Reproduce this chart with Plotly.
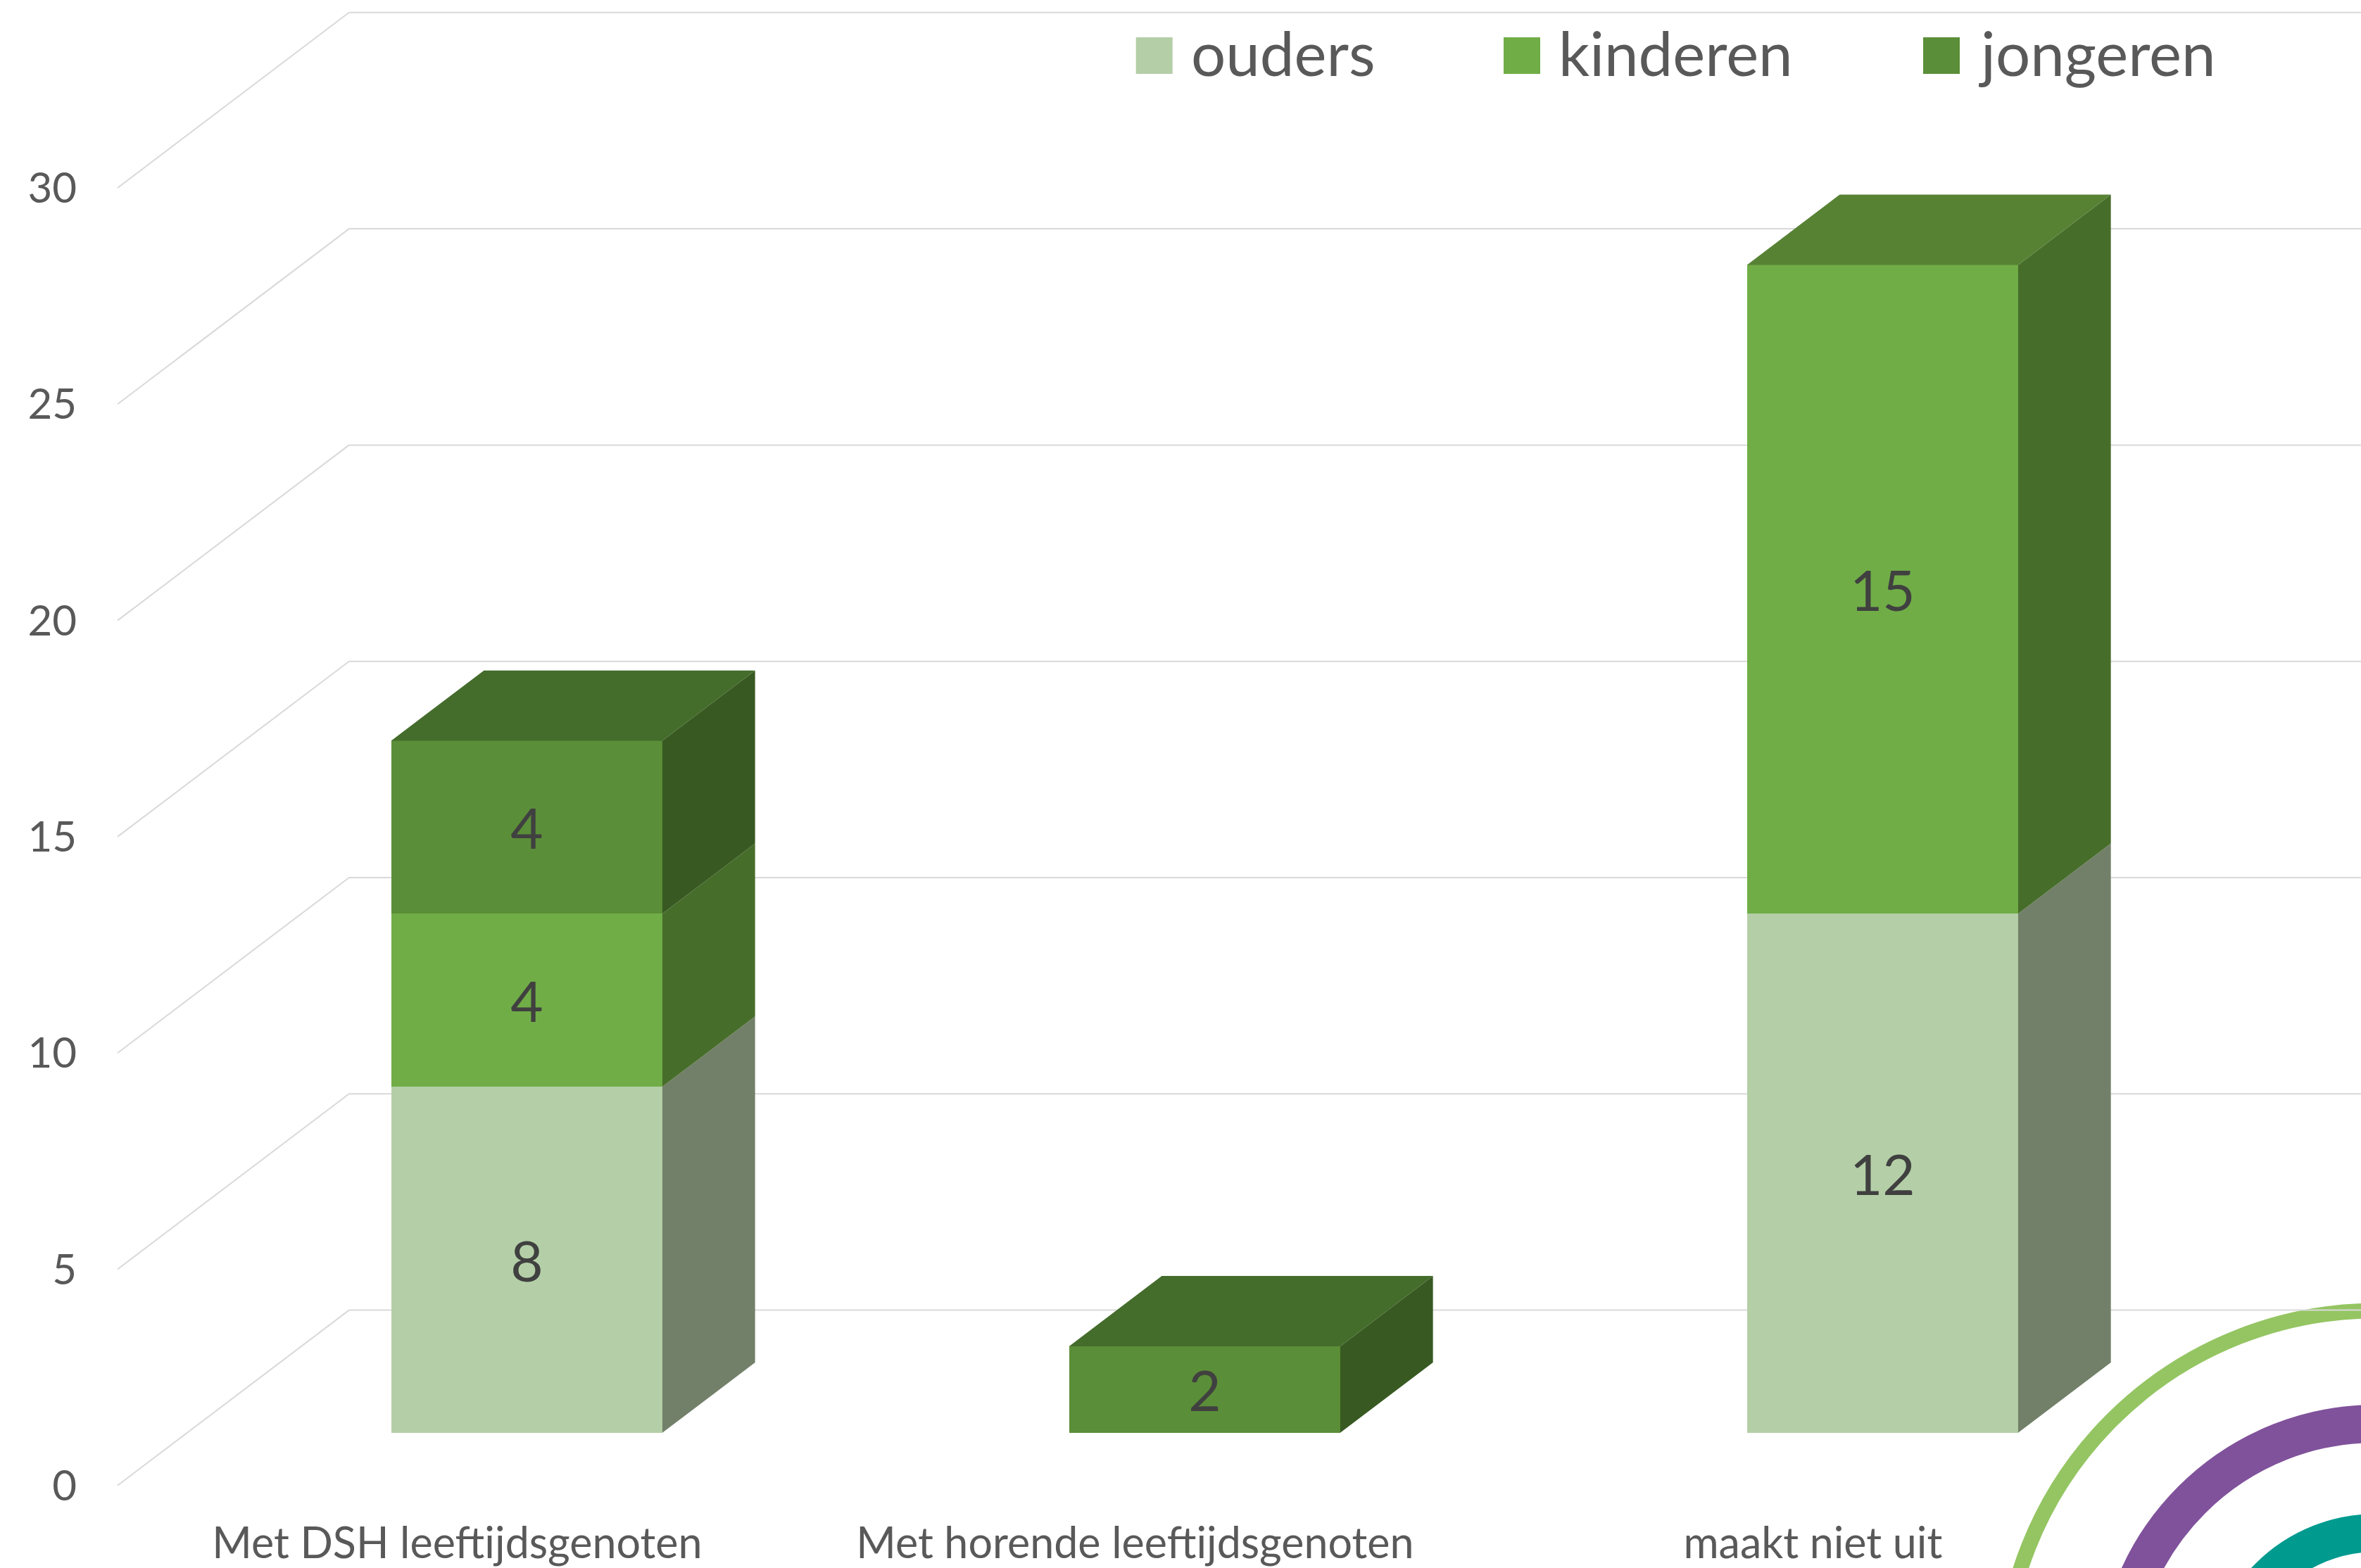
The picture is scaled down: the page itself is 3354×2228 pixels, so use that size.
import plotly.graph_objects as go

# ---- data ----
categories = ["Met DSH leeftijdsgenoten", "Met horende leeftijdsgenoten", "maakt niet uit"]
series_names = ["ouders", "kinderen", "jongeren"]
ouders = [8, None, 12]
kinderen = [4, None, 15]
jongeren = [4, 2, None]
value_ticks = [0, 5, 10, 15, 20, 25, 30]

series_values = [ouders, kinderen, jongeren]
front_colors = ["#B4CFA7", "#70AD47", "#5B8E38"]
side_colors = ["#728069", "#476D2A", "#385A22"]
top_colors = ["#88A07C", "#578234", "#446C2B"]

# ---- layout geometry (pixels of the page) ----
W, H = 3354, 2228
CAT_PX = 963.0
UNIT_PX = 61.46
X0_PX = 748.35      # centre of first bar
Y0_PX = 2035.8      # value 0 on the bars' front plane
PLOT_L, PLOT_B = 110, 2152
BAR_W = 0.4
DX = 131.7 / CAT_PX        # bar depth in x units
DY = 99.8 / UNIT_PX        # bar depth in value units
FLOOR_FRONT = -0.7515      # floor front edge, in bar depths
BACK_WALL = 1.7455         # back wall, in bar depths
LEFT_EDGE = (167 - X0_PX) / CAT_PX  # left end of the floor's front edge

x_range = [(PLOT_L - X0_PX) / CAT_PX, (W - X0_PX) / CAT_PX]
y_range = [(Y0_PX - PLOT_B) / UNIT_PX, Y0_PX / UNIT_PX]


def project(x, v, d):
    return x + d * DX, v + d * DY


fig = go.Figure()

# Front faces, stacked by the library
for name, vals, col in zip(series_names, series_values, front_colors):
    fig.add_trace(go.Bar(
        name=name, x=list(range(len(categories))), y=vals, width=BAR_W,
        marker=dict(color=col, line=dict(width=0)),
        text=[str(v) if v else "" for v in vals],
        textposition="inside", insidetextanchor="middle", textangle=0,
        constraintext="none",
        insidetextfont=dict(family="Lato", size=80, color="#404040"),
        showlegend=False, hoverinfo="skip",
    ))

# Side and top faces computed from the same values
base = [0] * len(categories)
tops = [max(i for i, s in enumerate(series_values) if s[c]) for c in range(len(categories))]
for s, vals in enumerate(series_values):
    side_x, side_y, top_x, top_y = [], [], [], []
    for c, v in enumerate(vals):
        if not v:
            continue
        b, t = base[c], base[c] + v
        xr = c + BAR_W / 2
        xl = c - BAR_W / 2
        pts = [project(xr, b, 0), project(xr, t, 0), project(xr, t, 1), project(xr, b, 1), project(xr, b, 0)]
        side_x += [p[0] for p in pts] + [None]
        side_y += [p[1] for p in pts] + [None]
        if tops[c] == s:
            pts = [project(xl, t, 0), project(xr, t, 0), project(xr, t, 1), project(xl, t, 1), project(xl, t, 0)]
            top_x += [p[0] for p in pts] + [None]
            top_y += [p[1] for p in pts] + [None]
        base[c] = t
    for xs, ys, col in ((side_x, side_y, side_colors[s]), (top_x, top_y, top_colors[s])):
        if xs:
            fig.add_trace(go.Scatter(x=xs, y=ys, mode="none", fill="toself", fillcolor=col,
                                     showlegend=False, hoverinfo="skip"))

shapes = []
# Wall gridlines and floor diagonals
GRID = dict(color="#D9D9D9", width=2)
for t in value_ticks:
    x_front, y_front = LEFT_EDGE, t + FLOOR_FRONT * DY
    x_back, y_back = LEFT_EDGE + (BACK_WALL - FLOOR_FRONT) * DX, t + BACK_WALL * DY
    shapes.append(dict(type="line", xref="x", yref="y", x0=x_front, y0=y_front, x1=x_back, y1=y_back,
                       line=GRID, layer="below"))
    shapes.append(dict(type="line", xref="x", yref="y", x0=x_back, y0=y_back, x1=x_range[1], y1=y_back,
                       line=GRID, layer="below"))

# Concentric arcs of the corner logo
LOGO_CX, LOGO_CY = 3375, 2393
for r, w, col in ((530.5, 21.7, "#94C562"), (370, 54, "#80529B"), (215, 54, "#009A8F")):
    shapes.append(dict(type="circle", xref="paper", yref="paper",
                       x0=(LOGO_CX - r) / W, x1=(LOGO_CX + r) / W,
                       y0=1 - (LOGO_CY + r) / H, y1=1 - (LOGO_CY - r) / H,
                       line=dict(color=col, width=w), fillcolor="rgba(0,0,0,0)", layer="below"))

# Legend: swatches and labels
annotations = []
swatch_left = [1613.7, 2136, 2732]
SWATCH = 52
for name, col, sx in zip(series_names, front_colors, swatch_left):
    shapes.append(dict(type="rect", xref="paper", yref="paper",
                       x0=sx / W, x1=(sx + SWATCH) / W,
                       y0=1 - 105 / H, y1=1 - 53 / H,
                       fillcolor=col, line=dict(width=0), layer="above"))
    annotations.append(dict(text=name, xref="paper", yref="paper", showarrow=False,
                            x=(sx + SWATCH + 24) / W, y=1 - 74 / H, xanchor="left", yanchor="middle",
                            font=dict(family="Lato", size=87, color="#595959")))

fig.update_layout(
    width=W, height=H, autosize=False,
    margin=dict(l=0, r=0, t=0, b=0),
    barmode="stack",
    paper_bgcolor="white", plot_bgcolor="rgba(0,0,0,0)",
    showlegend=False,
    shapes=shapes, annotations=annotations,
    xaxis=dict(domain=[PLOT_L / W, 1], range=x_range, showgrid=False, zeroline=False, showline=False,
               automargin=False, tickmode="array",
               tickvals=[c + FLOOR_FRONT * DX for c in range(len(categories))],
               ticktext=categories, ticks="", tickangle=0,
               tickfont=dict(family="Lato", size=61, color="#595959")),
    yaxis=dict(domain=[1 - PLOT_B / H, 1], range=y_range, showgrid=False, zeroline=False, showline=False,
               automargin=False, tickmode="array",
               tickvals=[t + FLOOR_FRONT * DY for t in value_ticks],
               ticktext=[str(t) for t in value_ticks], ticks="",
               tickfont=dict(family="Lato", size=60, color="#595959")),
)

fig.write_html("out.html", config={"displayModeBar": False},
               post_script="document.body.style.margin='0';")
